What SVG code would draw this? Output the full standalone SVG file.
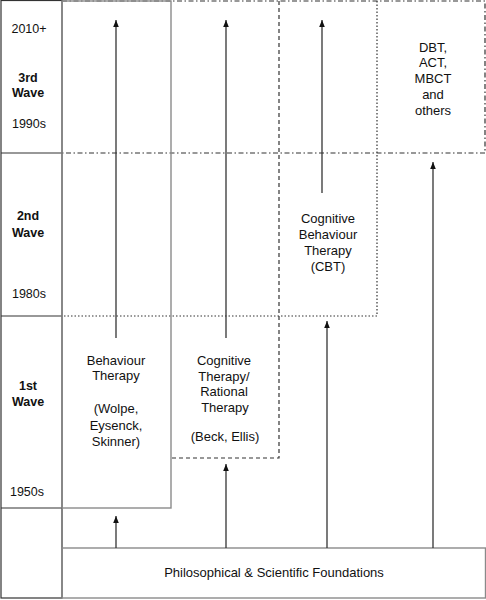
<svg xmlns="http://www.w3.org/2000/svg" width="486" height="600" viewBox="0 0 486 600">
<style>
text{font-family:"Liberation Sans",Arial,sans-serif;font-size:13px;fill:#111;text-anchor:middle}
.t{font-size:12.5px}
.b{font-weight:bold;font-size:12.5px}
.ln{fill:none;stroke:#333;stroke-width:1.2}
.gr{fill:none;stroke:#8a8a8a;stroke-width:1.4}
.dd{fill:none;stroke:#333;stroke-width:1.2;stroke-dasharray:5 2.5 1.5 2.5}
.ds{fill:none;stroke:#333;stroke-width:1.2;stroke-dasharray:4 3}
.dt{fill:none;stroke:#333;stroke-width:1.2;stroke-dasharray:1.5 2}
.ar{fill:none;stroke:#333;stroke-width:1.3;marker-end:url(#ah)}
</style>
<defs>
<marker id="ah" viewBox="0 0 10 10" refX="10" refY="5" markerWidth="7" markerHeight="7" markerUnits="userSpaceOnUse" orient="auto">
<path d="M0,1 L10,5 L0,9 z" fill="#111"/>
</marker>
</defs>
<rect width="486" height="600" fill="#fff"/>
<g id="timeline">
<rect x="1" y="0.5" width="61" height="597.5" class="ln"/>
<line x1="1" y1="153" x2="62" y2="153" class="ln"/>
<line x1="1" y1="316" x2="62" y2="316" class="ln"/>
<line x1="1" y1="508" x2="62" y2="508" class="ln"/>
<text x="29" y="33" class="t">2010+</text>
<text x="28" y="82" class="b">3rd</text>
<text x="28" y="97" class="b">Wave</text>
<text x="29" y="128" class="t">1990s</text>
<text x="28" y="220" class="b">2nd</text>
<text x="28" y="237" class="b">Wave</text>
<text x="29" y="298" class="t">1980s</text>
<text x="28" y="390" class="b">1st</text>
<text x="28" y="406" class="b">Wave</text>
<text x="27" y="496" class="t">1950s</text>
</g>
<g id="third-wave">
<polyline points="62,1 485,1 485,153 62,153" class="dd"/>
<text x="433" y="52">DBT,</text>
<text x="433" y="67">ACT,</text>
<text x="433" y="83">MBCT</text>
<text x="433" y="99">and</text>
<text x="433" y="115">others</text>
</g>
<g id="cbt">
<polyline points="377,1 377,316 62,316" class="dt"/>
<text x="328" y="223">Cognitive</text>
<text x="328" y="239">Behaviour</text>
<text x="328" y="255">Therapy</text>
<text x="328" y="271">(CBT)</text>
</g>
<g id="cognitive-therapy">
<polyline points="279,1 279,458 171,458" class="ds"/>
<text x="224" y="365">Cognitive</text>
<text x="224" y="381">Therapy/</text>
<text x="224" y="396">Rational</text>
<text x="225" y="412">Therapy</text>
<text x="225" y="441">(Beck, Ellis)</text>
</g>
<g id="behaviour-therapy">
<rect x="62" y="1" width="109" height="507" class="gr"/>
<text x="116" y="365">Behaviour</text>
<text x="116" y="380">Therapy</text>
<text x="116" y="413">(Wolpe,</text>
<text x="116" y="430">Eysenck,</text>
<text x="116" y="446">Skinner)</text>
</g>
<g id="foundations">
<rect x="62" y="548" width="423.5" height="50" class="gr"/>
<text x="274" y="577">Philosophical &amp; Scientific Foundations</text>
</g>
<g id="connectors">
<line x1="116" y1="338" x2="116" y2="20" class="ar"/>
<line x1="226" y1="338" x2="226" y2="20" class="ar"/>
<line x1="322" y1="193" x2="322" y2="20" class="ar"/>
<line x1="116" y1="548" x2="116" y2="516" class="ar"/>
<line x1="226" y1="548" x2="226" y2="464" class="ar"/>
<line x1="327" y1="548" x2="327" y2="321" class="ar"/>
<line x1="433" y1="548" x2="433" y2="162" class="ar"/>
</g>
</svg>
